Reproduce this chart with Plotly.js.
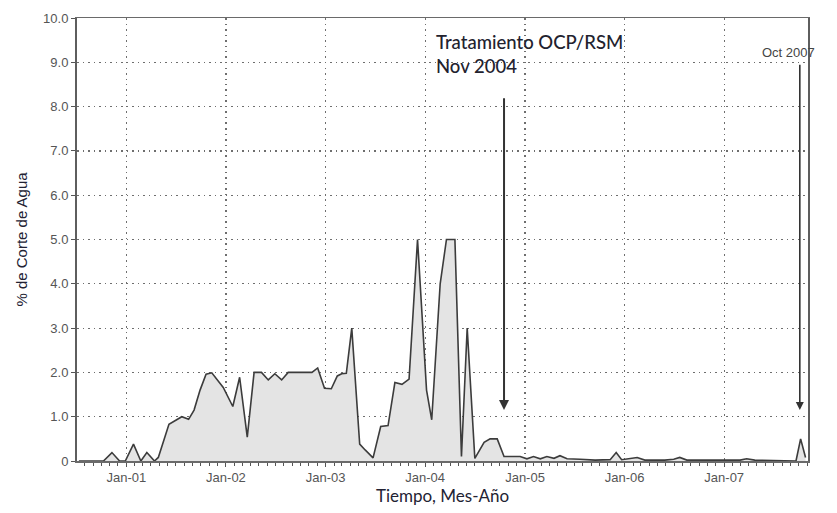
<!DOCTYPE html>
<html>
<head>
<meta charset="utf-8">
<script src="https://cdn.plot.ly/plotly-3.0.1.min.js"></script>
<style>
  html, body { margin: 0; padding: 0; background: #ffffff; }
  #chart { width: 837px; height: 513px; }
</style>
</head>
<body>
<div id="chart"></div>
<script>
// ---- data ----
const fechas = [
  "2000-07-11","2000-10-09","2000-11-09","2000-12-07","2000-12-28",
  "2001-01-27","2001-02-23","2001-03-17","2001-04-14","2001-04-28",
  "2001-06-06","2001-07-05","2001-07-23","2001-08-17","2001-09-06",
  "2001-09-28","2001-10-20","2001-11-10","2001-12-22","2002-01-26",
  "2002-02-20","2002-03-20","2002-04-14","2002-05-11","2002-06-05",
  "2002-06-29","2002-07-24","2002-08-17","2002-11-12","2002-12-03",
  "2002-12-28","2003-01-22","2003-02-13","2003-03-01","2003-03-18",
  "2003-04-07","2003-05-06","2003-05-26","2003-06-24","2003-07-22",
  "2003-08-18","2003-09-12","2003-10-08","2003-11-03","2003-12-04",
  "2004-01-06","2004-01-25","2004-02-25","2004-03-19","2004-04-19",
  "2004-05-13","2004-06-03","2004-07-01","2004-08-04","2004-08-26",
  "2004-09-21","2004-10-16","2004-12-14","2005-01-08","2005-02-01",
  "2005-02-26","2005-03-22","2005-04-17","2005-05-09","2005-06-04",
  "2005-07-21","2005-09-15","2005-11-09","2005-12-01","2005-12-21",
  "2006-01-21","2006-02-16","2006-03-16","2006-05-28","2006-06-30",
  "2006-07-22","2006-08-17","2007-02-28","2007-03-24","2007-04-23",
  "2007-09-21","2007-10-08","2007-10-26"
];
const corteAgua = [
  0, 0, 0.19, 0, 0,
  0.38, 0, 0.19, 0, 0.08,
  0.83, 0.93, 1.0, 0.94, 1.15,
  1.6, 1.96, 1.99, 1.66, 1.23,
  1.89, 0.54, 2.0, 2.0, 1.83,
  1.97, 1.83, 2.0, 2.0, 2.1,
  1.64, 1.63, 1.92, 1.97, 1.98,
  3.0, 0.38, 0.25, 0.07, 0.78,
  0.8, 1.77, 1.73, 1.85, 5.0,
  1.6, 0.93, 4.0, 5.0, 5.0,
  0.1, 3.0, 0.06, 0.42, 0.5,
  0.5, 0.1, 0.1, 0.05, 0.1,
  0.05, 0.1, 0.06, 0.12, 0.05,
  0.04, 0.02, 0.03, 0.19, 0.03,
  0.05, 0.08, 0.02, 0.02, 0.04,
  0.08, 0.02, 0.02, 0.05, 0.02,
  0.0, 0.5, 0.08
];

const xTickVals = ["2001-01-01","2002-01-01","2003-01-01","2004-01-01","2005-01-01","2006-01-01","2007-01-01"];
const xTickText = ["Jan-01","Jan-02","Jan-03","Jan-04","Jan-05","Jan-06","Jan-07"];
const yTickVals = [0,1,2,3,4,5,6,7,8,9,10];
const yTickText = ["0","1.0","2.0","3.0","4.0","5.0","6.0","7.0","8.0","9.0","10.0"];

// events marked with arrows
const eventos = [
  {fecha: "2004-10-16", desde: 8.22, hasta: 1.15},
  {fecha: "2007-10-05", desde: 8.98, hasta: 1.15}
];
const textoTratamiento = "Tratamiento OCP/RSM<br>Nov 2004";
const textoOct = "Oct 2007";

const trace = {
  x: fechas,
  y: corteAgua,
  type: "scatter",
  mode: "lines",
  fill: "tozeroy",
  fillcolor: "#e4e4e4",
  line: {color: "#3c3c3c", width: 1.6},
  hoverinfo: "x+y"
};

const annotations = [];
eventos.forEach((e, i) => {
  annotations.push({
    x: e.fecha, y: e.hasta, xref: "x", yref: "y",
    ax: e.fecha, ay: e.desde, axref: "x", ayref: "y",
    text: "", showarrow: true, arrowhead: 2, arrowsize: 1,
    arrowwidth: i === 0 ? 2 : 1.6, arrowcolor: "#333333"
  });
});
annotations.push({
  x: 0.4885, y: 0.975, xref: "paper", yref: "paper",
  xanchor: "left", yanchor: "top", align: "left",
  text: textoTratamiento, showarrow: false,
  font: {family: "Lato, 'Liberation Sans', sans-serif", size: 18.5, color: "#22222e", weight: 500}
});
annotations.push({
  x: "2007-08-24", y: 9.23, xref: "x", yref: "y",
  xanchor: "center", yanchor: "middle",
  text: textoOct, showarrow: false,
  font: {family: "'Liberation Sans Narrow', 'Liberation Sans', Arial, sans-serif", size: 13, color: "#444444"}
});

const layout = {
  width: 837, height: 513,
  margin: {l: 77, r: 29, t: 18, b: 52, pad: 0},
  paper_bgcolor: "#ffffff",
  plot_bgcolor: "#ffffff",
  showlegend: false,
  xaxis: {
    type: "date",
    range: ["2000-07-04", "2007-11-04"],
    tickvals: xTickVals,
    ticktext: xTickText,
    ticks: "outside", ticklen: 4, tickcolor: "#555",
    showgrid: true, gridcolor: "#6e6e6e", griddash: "1.5px,4px", gridwidth: 1.2,
    showline: true, linecolor: "#6a6a6a", linewidth: 1.5, mirror: true,
    zeroline: false,
    tickfont: {family: "'Liberation Sans', Arial, sans-serif", size: 13, color: "#555555"},
    minor: {dtick: "M1", tick0: "2001-01-01", ticks: "outside", ticklen: 3, tickcolor: "#555", showgrid: false},
    title: {text: "Tiempo, Mes-Año", standoff: 6,
      font: {family: "Lato, 'Liberation Sans', sans-serif", size: 17, color: "#222233"}}
  },
  yaxis: {
    range: [0, 10],
    tickvals: yTickVals,
    ticktext: yTickText,
    ticks: "outside", ticklen: 4, tickcolor: "#555",
    showgrid: true, gridcolor: "#6e6e6e", griddash: "1.5px,4px", gridwidth: 1.2,
    showline: true, linecolor: "#5e5e5e", linewidth: 2, mirror: true,
    zeroline: false,
    tickfont: {family: "'Liberation Sans', Arial, sans-serif", size: 13, color: "#555555"},
    title: {text: "% de Corte de Agua", standoff: 12,
      font: {family: "'Liberation Sans', Arial, sans-serif", size: 15, color: "#222233"}}
  },
  annotations: annotations
};

Plotly.newPlot("chart", [trace], layout, {displayModeBar: false, staticPlot: true});
</script>
</body>
</html>
